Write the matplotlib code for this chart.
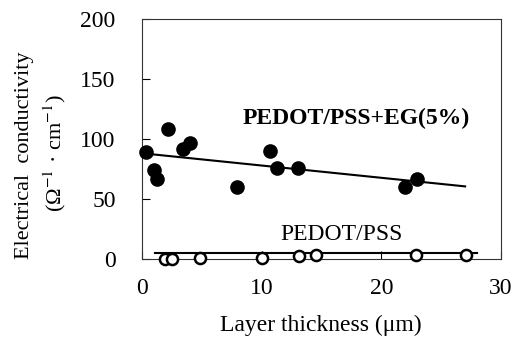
import matplotlib.pyplot as plt

plt.rcParams['font.family'] = ['Liberation Serif', 'DejaVu Serif']
plt.rcParams['mathtext.fontset'] = 'stix'

# PEDOT/PSS + EG(5%)
eg_x = [0.33, 1.0, 1.23, 2.2, 3.45, 4.0, 7.9, 10.7, 11.3, 13.06, 22.0, 22.95]
eg_y = [89.5, 74, 66.5, 108.5, 91.5, 96.5, 60, 90, 76, 76, 60, 66.5]
eg_fit_x = [0.6, 27.0]
eg_fit_y = [87.5, 60.5]

# PEDOT/PSS
pss_x = [1.92, 2.48, 4.85, 10.0, 13.1, 14.5, 22.9, 27.1]
pss_y = [0.0, 0.0, 1.0, 1.0, 2.5, 3.3, 3.3, 3.3]
pss_fit_x = [1.1, 28.0]
pss_fit_y = [4.6, 4.6]

xticks = [0, 10, 20, 30]
yticks = [0, 50, 100, 150, 200]

fs = 17

fig = plt.figure(figsize=(5.17, 3.37), dpi=100)
ax = fig.add_axes([0.2747, 0.2315, 0.6944, 0.7121])

ax.plot(eg_fit_x, eg_fit_y, color='black', lw=1.5)
ax.plot(pss_fit_x, pss_fit_y, color='black', lw=1.5)
ax.plot(eg_x, eg_y, 'o', color='black', ms=9.5, clip_on=False, zorder=3)
ax.plot(pss_x, pss_y, 'o', mfc='white', mec='black', mew=1.8, ms=8,
        clip_on=False, zorder=3)

ax.text(17.9, 117.5, 'PEDOT/PSS+EG(5%)', fontsize=fs, fontweight='bold',
        ha='center', va='center')
ax.text(16.7, 20, 'PEDOT/PSS', fontsize=fs, ha='center', va='center')

ax.set_xlim(0, 30)
ax.set_ylim(0, 200)
ax.set_xticks(xticks)
ax.set_yticks(yticks)
ax.tick_params(direction='in', length=6, width=0.8, labelsize=fs)
ax.tick_params(axis='y', pad=19)
ax.tick_params(axis='x', pad=14)
for s in ax.spines.values():
    s.set_linewidth(0.8)
    s.set_color('#333333')

fig.text(0.621, 0.033, 'Layer thickness (μm)', fontsize=fs,
         ha='center', va='center')
fig.text(0.048, 0.54, 'Electrical  conductivity', rotation=90, fontsize=16,
         ha='center', va='center')
fig.text(0.106, 0.546, '(Ω$^{-1}$ · cm$^{-1}$)', rotation=90, fontsize=16,
         ha='center', va='center')

fig.savefig('out.png', dpi=100)
